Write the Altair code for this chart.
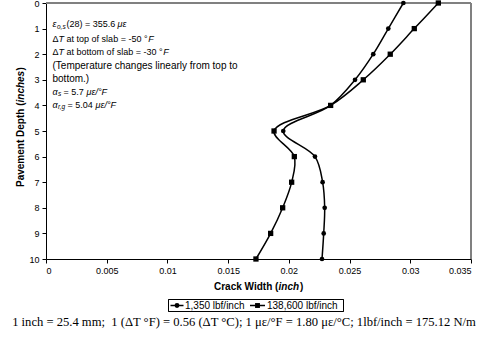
import altair as alt
import pandas as pd

depth = [0, 1, 2, 3, 4, 5, 6, 7, 8, 9, 10]
crack_1350 = [0.02943, 0.02819, 0.02695, 0.02545, 0.02344, 0.01954, 0.02215, 0.02278, 0.02295, 0.02287, 0.02273]
crack_138600 = [0.03231, 0.03033, 0.02835, 0.02613, 0.02344, 0.01878, 0.02045, 0.02023, 0.01949, 0.0185, 0.01729]
series_names = ["1,350 lbf/inch", "138,600 lbf/inch"]
series_shapes = ["circle", "square"]
x_ticks = [0, 0.005, 0.01, 0.015, 0.02, 0.025, 0.03, 0.035]
y_ticks = [0, 1, 2, 3, 4, 5, 6, 7, 8, 9, 10]

rows = []
for d, a, b in zip(depth, crack_1350, crack_138600):
    rows.append({"depth": d, "crack": a, "series": series_names[0]})
    rows.append({"depth": d, "crack": b, "series": series_names[1]})
df = pd.DataFrame(rows)

W, H = 425, 256
OX, OY = 46, 3  # plot origin on the page
SANS = "Liberation Sans"

xs = alt.X("crack:Q", scale=alt.Scale(domain=[0, 0.035], nice=False, zero=False),
           axis=alt.Axis(values=x_ticks, format="~g", title=None, grid=False,
                         domainColor="black", tickColor="black", tickSize=4,
                         labelFont=SANS, labelFontSize=9, labelColor="black", labelPadding=3))
ys = alt.Y("depth:Q", scale=alt.Scale(domain=[0, 10], reverse=True, nice=False),
           axis=alt.Axis(values=y_ticks, title=None, grid=False,
                         domainColor="black", tickColor="black", tickSize=4,
                         labelFont=SANS, labelFontSize=9, labelColor="black", labelPadding=3))

base = alt.Chart(df)
lines = base.mark_line(interpolate="catmull-rom", color="black", strokeWidth=1.5).encode(
    x=xs, y=ys, detail="series:N", order="depth:Q")
pts_circle = base.transform_filter(alt.datum.series == series_names[0]).mark_point(
    shape="circle", filled=True, color="black", opacity=1, size=22).encode(x=xs, y=ys)
pts_square = base.transform_filter(alt.datum.series == series_names[1]).mark_point(
    shape="square", filled=True, color="black", opacity=1, size=28).encode(x=xs, y=ys)

frame_top = alt.Chart(df).mark_rule(color="#808080", strokeWidth=2).encode(
    x=alt.value(0), x2=alt.value(W), y=alt.value(0))
frame_right = alt.Chart(df).mark_rule(color="#808080", strokeWidth=2).encode(
    x=alt.value(W), y=alt.value(0), y2=alt.value(H))


def text_layer(segs, size, style="normal", weight="normal", font=SANS, angle=0, align="left"):
    d = pd.DataFrame([(t, x - OX, y - OY) for t, x, y in segs], columns=["t", "px", "py"])
    return alt.Chart(d).mark_text(align=align, baseline="middle", fontSize=size, fontStyle=style,
                                  fontWeight=weight, font=font, color="black", angle=angle).encode(
        x=alt.X("px:Q", scale=None), y=alt.Y("py:Q", scale=None), text="t:N")


# annotation (page coordinates)
L = [24, 38.5, 52, 65.5, 78.5, 91.5, 104.5]
EQ = 9
ann = [
    text_layer([("(Temperature changes linearly from top to", 52.5, L[3]),
                ("bottom.)", 52.5, L[4])], 10),
    text_layer([("Δ", 52.5, L[1]), ("at top of slab = -50 °", 66.6, L[1]),
                ("Δ", 52.5, L[2]), ("at bottom of slab = -30 °", 66.6, L[2]),
                ("(28) = 355.6", 66.5, L[0]),
                ("= 5.7", 63.5, L[5]),
                ("= 5.04", 67.5, L[6])], EQ),
    text_layer([("T", 58.6, L[1]), ("T", 58.6, L[2]),
                ("F", 148.3, L[1]), ("F", 163.3, L[2]),
                ("ε", 52.5, L[0]), ("με", 117.5, L[0]),
                ("α", 52.5, L[5]), ("με/°F", 86.5, L[5]),
                ("α", 52.5, L[6]), ("με/°F", 95.5, L[6])], EQ, style="italic"),
    text_layer([("o,s", 57, L[0] + 2.5), ("s", 58, L[5] + 2.5), ("r,g", 58, L[6] + 2.5)],
               6.5, style="italic"),
]

# axis titles
xt_y = 287
x_title = [
    text_layer([("Crack Width (", 214, xt_y)], 10, weight="bold"),
    text_layer([("inch", 214 + 64.5, xt_y)], 10, weight="bold", style="italic"),
    text_layer([(")", 214 + 86, xt_y)], 10, weight="bold"),
]
yt_x = 21
y_title = [
    text_layer([("Pavement Depth (", yt_x, 187)], 10, weight="bold", angle=270),
    text_layer([("inches", yt_x, 187 - 84.5)], 10, weight="bold", style="italic", angle=270),
    text_layer([("\u00a0)", yt_x, 187 - 116.5)], 10, weight="bold", angle=270),
]

# legend (drawn from series_names / series_shapes)
leg_y = 305.5
leg = pd.DataFrame({
    "name": series_names,
    "shape": series_shapes,
    "lx1": [170.5 - OX, 250 - OX],
    "lx2": [183.5 - OX, 265 - OX],
    "tx": [185 - OX, 267 - OX],
})
leg["mx"] = (leg["lx1"] + leg["lx2"]) / 2
leg["ly"] = leg_y - OY
legend_box = alt.Chart(leg).mark_rect(fill="white", stroke="black", strokeWidth=1).encode(
    x=alt.value(168.5 - OX), x2=alt.value(343.5 - OX), y=alt.value(299.5 - OY), y2=alt.value(311.5 - OY))
legend_lines = alt.Chart(leg).mark_rule(color="black", strokeWidth=1.5).encode(
    x=alt.X("lx1:Q", scale=None), x2="lx2:Q", y=alt.Y("ly:Q", scale=None))
legend_marks = alt.Chart(leg).mark_point(filled=True, color="black", opacity=1, size=24).encode(
    x=alt.X("mx:Q", scale=None), y=alt.Y("ly:Q", scale=None),
    shape=alt.Shape("shape:N", scale=None))
legend_text = alt.Chart(leg).mark_text(align="left", baseline="middle", font=SANS, fontSize=10,
                                       color="black").encode(
    x=alt.X("tx:Q", scale=None), y=alt.Y("ly:Q", scale=None), text="name:N")

footer = text_layer([("1 inch = 25.4 mm;\u00a0 1 (ΔT °F) = 0.56 (ΔT °C); 1 με/°F = 1.80 με/°C; 1lbf/inch = 175.12 N/m",
                      244, 322)], 12.6, font="Liberation Serif", align="center")

chart = alt.layer(frame_top, frame_right, lines, pts_circle, pts_square, *ann, *x_title, *y_title,
                  legend_box, legend_lines, legend_marks, legend_text, footer).properties(
    width=W, height=H,
    autosize=alt.AutoSizeParams(type="none"),
    padding={"left": OX, "top": OY, "right": 487 - OX - W, "bottom": 347 - OY - H},
    background="white",
).configure_view(stroke=None).configure_axis(domainWidth=1, tickWidth=1)

chart.save("out.html", embed_options={"renderer": "svg", "actions": False})
